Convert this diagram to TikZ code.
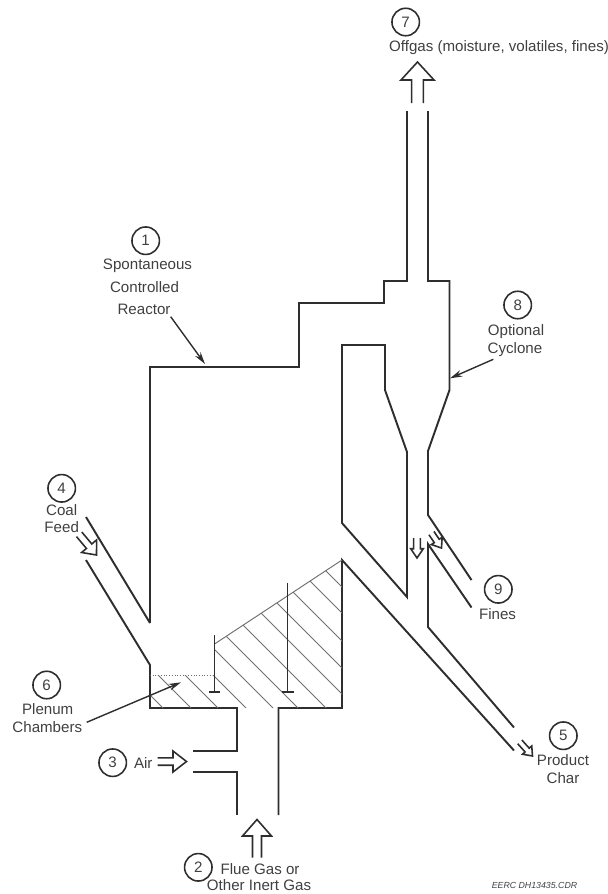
\documentclass[tikz,border=0pt]{standalone}
\usepackage{fontspec}
\setmainfont{Liberation Sans}
\usetikzlibrary{arrows.meta,positioning}
\definecolor{srInk}{HTML}{2E2E2E}
\definecolor{srText}{HTML}{404040}
\definecolor{srHatch}{HTML}{707070}
\tikzset{
  every node/.style={font=\fontsize{8.6}{10}\selectfont, text=srText, inner sep=0pt},
  wall/.style={draw=srInk, line width=1.1pt, line join=miter},
  hatchLine/.style={draw=srHatch, line width=0.55pt},
  openArrow/.style={draw=srInk, line width=0.9pt, line join=miter},
  leader/.style={-{Stealth[length=7pt,width=3.8pt]}, draw=srInk, line width=0.8pt},
  tag/.style={circle, draw=srInk, line width=0.9pt, minimum size=0.55cm,
    font=\fontsize{8.6}{10}\selectfont},
}
\newcommand{\hollowarrow}[7]{%
  \begin{scope}[shift={(#1,#2)},rotate=#3]
    \draw[openArrow] (-#4,#7) -- (-#4,#6) -- (-#5,#6) -- (0,0)
      -- (#5,#6) -- (#4,#6) -- (#4,#7);
  \end{scope}
}

\begin{document}
\begin{tikzpicture}[x=0.02cm,y=-0.02cm]
  \useasboundingbox (0,0) rectangle (608,894);

  % Reactor shell and offgas stack.
  \draw[wall] (150,623) -- (150,367) -- (299,367) -- (299,303) -- (384,303)
    -- (384,281) -- (407,281) -- (407,111);
  \draw[wall] (428,111) -- (428,281) -- (449.5,281) -- (449.5,390) -- (428,451)
    -- (428,515) -- (471.5,580);

  % Cyclone body.
  \draw[wall] (342,523) -- (342,345) -- (385,345) -- (385,390) -- (407,452)
    -- (407,597) -- cycle;
  \draw[wall] (471.5,607.5) -- (428,544) -- (428,627) -- (514,727.5);
  \draw[wall] (514,750.5) -- (342,560) -- (342,708) -- (278.5,708) -- (278.5,815);

  % Coal feed chute.
  \draw[wall] (86,517) -- (150,623);
  \draw[wall] (86,560) -- (150,665) -- (150,708) -- (237,708) -- (237,751) -- (193,751);
  \draw[wall] (193,772) -- (237,772) -- (237,815);

  % Bed hatching.
  \begin{scope}
    \clip (150,675) -- (214.5,675) -- (214.5,644) -- (342,560) -- (342,708) -- (150,708) -- cycle;
    \foreach \p in {163,191,218,246,273,298,326,356,382,409,437,463} {
      \draw[hatchLine] (\p,708) -- (\p-170,538);
    }
  \end{scope}
  \draw[hatchLine] (214.5,644) -- (342,560);
  \draw[hatchLine, densely dotted] (150,675) -- (214.5,675);

  % Baffles.
  \draw[wall] (214.5,635) -- (214.5,692);
  \draw[wall] (209,692) -- (220,692);
  \draw[wall] (287.5,583) -- (287.5,692);
  \draw[wall] (282,692) -- (294,692);

  % Flow arrows.
  \hollowarrow{417.5}{62}{0}{5.8}{16.5}{18}{41}
  \hollowarrow{257}{819.5}{0}{4.5}{14.5}{16.5}{38}
  \hollowarrow{186.5}{761.5}{-90}{3.7}{10.5}{13.5}{29}
  \hollowarrow{96.5}{555}{-140}{3.5}{9.8}{11.5}{27}
  \hollowarrow{532.5}{756}{-138}{2.8}{6.2}{8}{19}
  \hollowarrow{417}{558}{180}{3.3}{6.3}{9.3}{20}
  \hollowarrow{441.5}{548}{-146}{3}{6.5}{8.5}{18}

  % Numbered labels.
  \node[tag] (tagOne) at (145.7,240.7) {1};
  \node (txtSpont) at (147.5,265.7) {Spontaneous};
  \node (txtCtrl) at (144.5,287.3) {Controlled};
  \node (txtReact) at (144,309.3) {Reactor};

  \node[tag] (tagTwo) at (198.3,867.3) {2};
  \node (txtFlue) at (260,869.3) {Flue Gas or};
  \node (txtInert) at (259,885) {Other Inert Gas};

  \node[tag] (tagThree) at (112.7,762.7) {3};
  \node (txtAir) at (143.3,762.7) {Air};

  \node[tag] (tagFour) at (61.7,488.3) {4};
  \node (txtCoal) at (61.7,510) {Coal};
  \node (txtFeed) at (61.7,526.7) {Feed};

  \node[tag] (tagFive) at (563.3,735.7) {5};
  \node (txtProd) at (563,760) {Product};
  \node (txtChar) at (563,778) {Char};

  \node[tag] (tagSix) at (46.7,685) {6};
  \node (txtPlenum) at (47.7,709) {Plenum};
  \node (txtChamb) at (47.3,726.7) {Chambers};

  \node[tag] (tagSeven) at (405.7,22) {7};
  \node (txtOffgas) at (499,47.7) {Offgas (moisture, volatiles, fines)};

  \node[tag] (tagEight) at (517.7,305) {8};
  \node (txtOpt) at (516,331.7) {Optional};
  \node (txtCyc) at (515,349.3) {Cyclone};

  \node[tag] (tagNine) at (498.3,589.3) {9};
  \node (txtFines) at (497.5,614) {Fines};

  \node[font=\itshape\fontsize{5}{6}\selectfont] (txtRef) at (534.5,885) {EERC DH13435.CDR};

  % Leaders.
  \coordinate (reactorFrom) at (170.7,316.7);
  \coordinate (reactorTip) at (205,364);
  \coordinate (cycloneFrom) at (493.3,359.3);
  \coordinate (cycloneTip) at (450,378.3);
  \coordinate (plenumFrom) at (86.7,722.3);
  \coordinate (plenumTip) at (181,682.3);
  \draw[leader] (reactorFrom) -- (reactorTip);
  \draw[leader] (cycloneFrom) -- (cycloneTip);
  \draw[leader] (plenumFrom) -- (plenumTip);
\end{tikzpicture}
\end{document}
